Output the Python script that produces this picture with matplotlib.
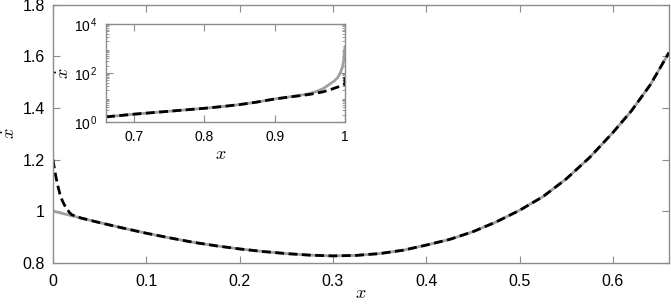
import matplotlib
matplotlib.use("Agg")
import matplotlib.pyplot as plt
from matplotlib.ticker import LogLocator, NullFormatter

plt.rcParams['font.family'] = ['Liberation Sans', 'DejaVu Sans']
plt.rcParams['mathtext.fontset'] = 'cm'

# Main panel data
x_grey = [0, 0.01, 0.02, 0.03, 0.05, 0.075, 0.1, 0.125, 0.15, 0.175, 0.2, 0.225,
          0.25, 0.275, 0.3, 0.325, 0.35, 0.375, 0.4, 0.425, 0.45, 0.475, 0.5,
          0.525, 0.55, 0.575, 0.6, 0.62, 0.64, 0.66]
y_grey = [1.0, 0.991, 0.982, 0.973, 0.955, 0.934, 0.914, 0.896, 0.879, 0.865,
          0.853, 0.843, 0.835, 0.829, 0.826, 0.828, 0.835, 0.848, 0.868, 0.89,
          0.92, 0.958, 1.003, 1.056, 1.125, 1.208, 1.305, 1.39, 1.49, 1.615]
x_dash = [0, 0.001, 0.002, 0.003, 0.005, 0.0075, 0.01, 0.0125, 0.015, 0.0175,
          0.02, 0.03, 0.05, 0.075, 0.1, 0.125, 0.15, 0.175, 0.2, 0.225,
          0.25, 0.275, 0.3, 0.325, 0.35, 0.375, 0.4, 0.425, 0.45, 0.475, 0.5,
          0.525, 0.55, 0.575, 0.6, 0.62, 0.64, 0.66]
y_dash = [1.2, 1.175, 1.155, 1.135, 1.1, 1.065, 1.04, 1.022, 1.008, 0.995,
          0.986, 0.973, 0.955, 0.934, 0.914, 0.896, 0.879, 0.865,
          0.853, 0.843, 0.835, 0.829, 0.826, 0.828, 0.835, 0.848, 0.868, 0.89,
          0.92, 0.958, 1.003, 1.056, 1.125, 1.208, 1.305, 1.39, 1.49, 1.615]

# Inset data
xi_grey = [0.66, 0.68, 0.7, 0.725, 0.75, 0.775, 0.8, 0.825, 0.85, 0.875, 0.9,
           0.92, 0.94, 0.95, 0.96, 0.97, 0.98, 0.985, 0.99, 0.993, 0.996,
           0.998, 0.999, 0.9995, 1.0]
yi_grey = [1.62, 1.84, 2.09, 2.40, 2.75, 3.16, 3.63, 4.27, 5.13, 6.53, 8.71,
           10.5, 12.9, 14.5, 17.8, 24.0, 38.0, 47.9, 66.1, 95.5, 158,
           282, 501, 708, 1175]
xi_dash = [0.66, 0.68, 0.7, 0.725, 0.75, 0.775, 0.8, 0.825, 0.85, 0.875, 0.9,
           0.92, 0.94, 0.95, 0.96, 0.97, 0.98, 0.99, 1.0, 1.0]
yi_dash = [1.62, 1.84, 2.09, 2.40, 2.75, 3.16, 3.63, 4.27, 5.13, 6.53, 8.71,
           10.4, 12.3, 13.5, 15.1, 17.4, 21.4, 26.9, 34.7, 70.0]

main_xticks = [0, 0.1, 0.2, 0.3, 0.4, 0.5, 0.6]
main_xticklabels = ['0', '0.1', '0.2', '0.3', '0.4', '0.5', '0.6']
main_yticks = [0.8, 1.0, 1.2, 1.4, 1.6, 1.8]
main_yticklabels = ['0.8', '1', '1.2', '1.4', '1.6', '1.8']
inset_xticks = [0.7, 0.8, 0.9, 1.0]
inset_xticklabels = ['0.7', '0.8', '0.9', '1']
inset_yticks = [1, 1e2, 1e4]
inset_yticklabels = [r'$\mathdefault{10^{\,0}}$', r'$\mathdefault{10^{\,2}}$',
                     r'$\mathdefault{10^{\,4}}$']

spine_col = '#8c8c8c'
grey_col = '#a0a0a0'

fig = plt.figure(figsize=(6.71, 3.05), dpi=100)
ax = fig.add_axes([0.079, 0.139, 0.918, 0.845])

def style(a, size, xpad, ypad):
    for s in a.spines.values():
        s.set_color(spine_col)
        s.set_linewidth(1.0)
    a.tick_params(which='both', direction='in', top=True, right=True,
                  color=spine_col, labelsize=size)
    a.tick_params(axis='x', pad=xpad)
    a.tick_params(axis='y', pad=ypad)
    a.tick_params(which='major', length=5)

ax.plot(x_grey, y_grey, color=grey_col, lw=2.0, solid_capstyle='butt')
ax.plot(x_dash, y_dash, color='black', lw=2.0, dashes=(3.2, 1.6))
ax.set_xlim(0, 0.66)
ax.set_ylim(0.8, 1.8)
ax.set_xticks(main_xticks)
ax.set_xticklabels(main_xticklabels)
ax.set_yticks(main_yticks)
ax.set_yticklabels(main_yticklabels)
style(ax, 11.5, 8, 6)
ax.set_xlabel(r'$x$', fontsize=13)
ax.xaxis.set_label_coords(0.5, -0.085)
ax.set_ylabel(r'$\dot{x}$', fontsize=13)
ax.yaxis.set_label_coords(-0.055, 0.5)

ins = fig.add_axes([0.158, 0.6, 0.356, 0.321])
ins.plot(xi_grey, yi_grey, color=grey_col, lw=2.0)
ins.plot(xi_dash, yi_dash, color='black', lw=2.0, dashes=(3.2, 1.6))
ins.set_yscale('log')
ins.set_xlim(0.66, 1.0)
ins.set_ylim(1, 1e4)
ins.set_xticks(inset_xticks)
ins.set_xticklabels(inset_xticklabels)
ins.set_yticks(inset_yticks)
ins.set_yticklabels(inset_yticklabels)
ins.yaxis.set_minor_locator(LogLocator(base=10, subs=range(2, 10), numticks=20))
ins.yaxis.set_minor_formatter(NullFormatter())
style(ins, 10, 6, 6)
ins.tick_params(which='minor', length=2.5)
ins.set_xlabel(r'$x$', fontsize=13)
ins.xaxis.set_label_coords(0.48, -0.25)
ins.set_ylabel(r'$\dot{x}$', fontsize=13)
ins.yaxis.set_label_coords(-0.14, 0.5)

fig.savefig('out.png', dpi=100)
